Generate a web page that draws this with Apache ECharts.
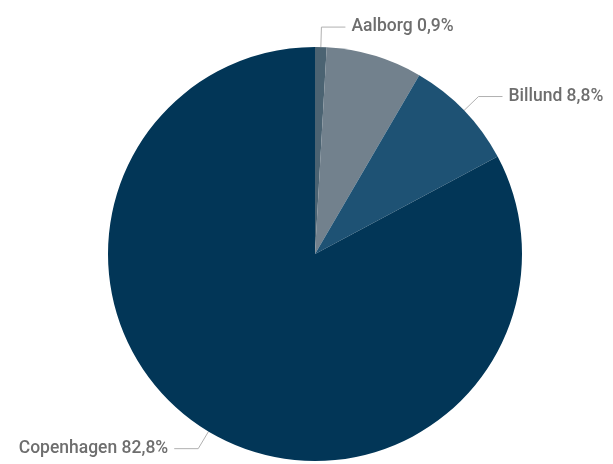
<!DOCTYPE html>
<html>
<head>
<meta charset="utf-8">
<script src="https://cdn.jsdelivr.net/npm/echarts@6/dist/echarts.min.js"></script>
<style>html,body{margin:0;padding:0;background:#fff;}#c{width:613px;height:464px;}</style>
</head>
<body>
<div id="c"></div>
<script>
const names = ['Aalborg', 'Other', 'Billund', 'Copenhagen'];
const values = [0.9, 7.5, 8.8, 82.8];
const colors = ['#4b6372', '#72818d', '#1e5274', '#023657'];
const showLabel = [true, false, true, true];

const chart = echarts.init(document.getElementById('c'));
chart.setOption({
  animation: false,
  series: [{
    type: 'pie',
    center: [315, 254],
    radius: 207,
    startAngle: 90,
    clockwise: true,
    avoidLabelOverlap: false,
    data: names.map((n, i) => ({
      name: n, value: values[i],
      itemStyle: { color: colors[i] },
      label: { show: showLabel[i] },
      labelLine: { show: showLabel[i] }
    })),
    label: {
      formatter: p => p.name + ' ' + p.value.toFixed(1).replace('.', ',') + '%',
      fontFamily: 'Roboto',
      fontSize: 17.5,
      fontWeight: 500,
      color: '#6e6e6e',
      distanceToLabelLine: 6
    },
    labelLine: {
      length: 20,
      length2: 24,
      lineStyle: { color: '#b0b0b0', width: 1 }
    },
    emphasis: { disabled: true }
  }]
});
</script>
</body>
</html>
